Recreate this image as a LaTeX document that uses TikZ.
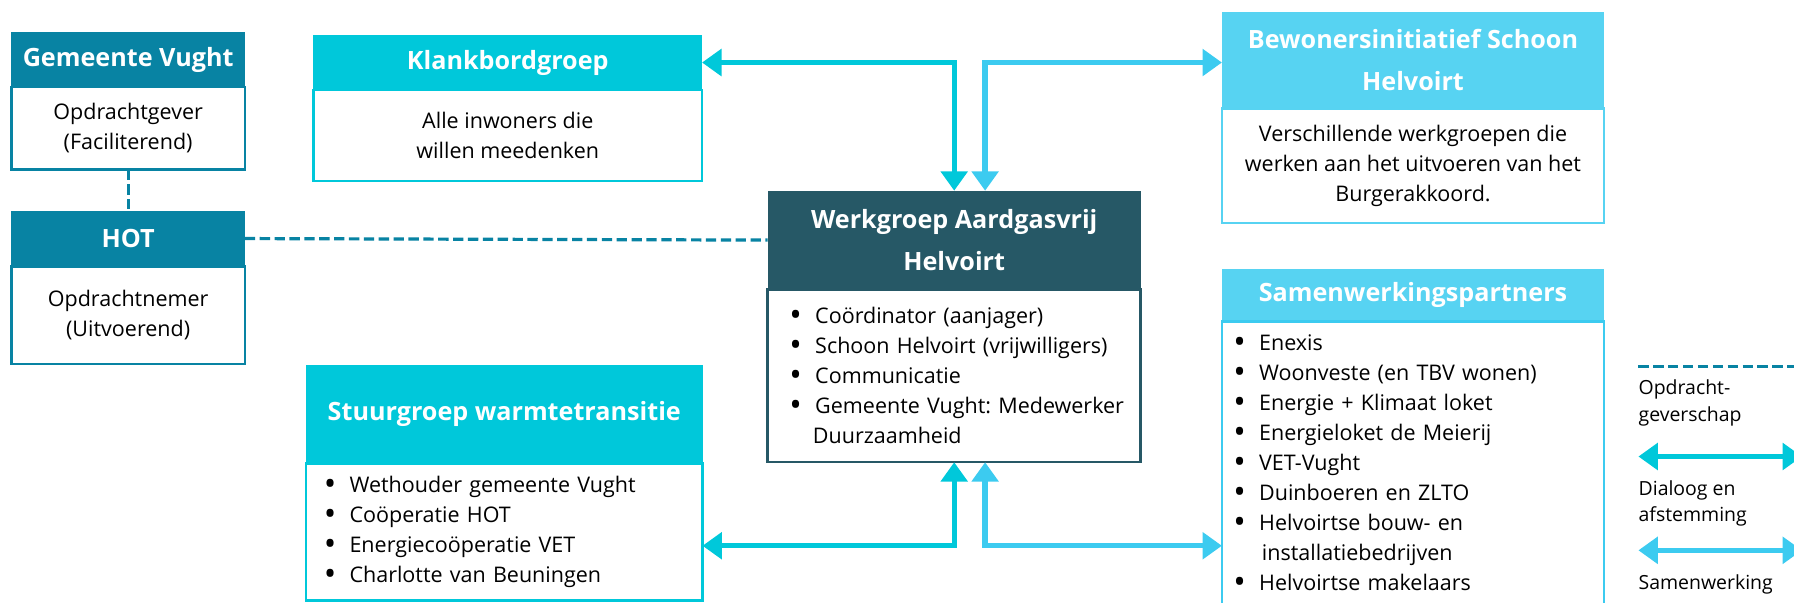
\documentclass[tikz,border=0pt]{standalone}
\usepackage{fontspec}
\setmainfont{Open Sans}
\usetikzlibrary{arrows.meta,positioning}
\definecolor{gvteal}{HTML}{0883A3}
\definecolor{cyanbox}{HTML}{00C8DA}
\definecolor{lichtblauw}{HTML}{57D3F2}
\definecolor{werkdonker}{HTML}{265866}
\definecolor{cyanpijl}{HTML}{00C8DA}
\definecolor{lichtpijl}{HTML}{3CCBF0}
\frenchspacing
\newcommand{\kopfont}{\fontsize{22}{37}\selectfont\bfseries}
\newcommand{\tekstfont}{\fontsize{18.8}{26.2}\selectfont}
\newcommand{\legfont}{\fontsize{17}{23.5}\selectfont}
\newcommand{\lpunt}[1]{\mbox{\makebox[22.5pt][l]{\raisebox{-2.2pt}{\scalebox{1.55}{\textbullet}}}#1}}
\tikzset{
  kop/.style     = {text=white, font=\kopfont, align=center, inner sep=0pt, outer sep=0pt},
  romp/.style    = {draw=#1, line width=2.2pt, fill=white, font=\tekstfont, align=center, inner sep=0pt, outer sep=0pt},
  lijst/.style   = {romp=#1, align=left},
  dialoog/.style = {{Triangle[length=17pt,width=23pt]}-{Triangle[length=17pt,width=23pt]}, line width=4.7pt, draw=cyanpijl},
  samenw/.style  = {dialoog, draw=lichtpijl},
  opdr/.style    = {line width=2.8pt, draw=gvteal, dash pattern=on 9pt off 4pt},
  legenda/.style = {anchor=west, align=left, font=\legfont, inner sep=0pt},
}
\begin{document}
\begin{tikzpicture}[x=1pt,y=-1pt]
  \useasboundingbox (0,0) rectangle (1568,527);

  % opdrachtgever en opdrachtnemer
  \node[kop, fill=gvteal, minimum width=204pt, minimum height=48pt] (gvkop) at (112,52) {Gemeente Vught};
  \node[romp=gvteal, minimum width=204pt, minimum height=72pt, below=0pt of gvkop] (gvromp) {Opdrachtgever\\(Faciliterend)};
  \node[kop, fill=gvteal, minimum width=204pt, minimum height=48.5pt] (hotkop) at (112,208.5) {HOT};
  \node[romp=gvteal, minimum width=204pt, minimum height=85.5pt, below=0pt of hotkop] (hotromp) {Opdrachtnemer\\(Uitvoerend)};

  % klankbordgroep en stuurgroep
  \node[kop, fill=cyanbox, minimum width=339.6pt, minimum height=48.1pt] (klankkop) at (443.8,54.65) {Klankbordgroep};
  \node[romp=cyanbox, minimum width=339.6pt, minimum height=79.3pt, below=0pt of klankkop] (klankromp) {Alle inwoners die\\willen meedenken};
  \node[kop, fill=cyanbox, minimum width=346.5pt, minimum height=86pt] (stuurkop) at (440.75,362) {Stuurgroep warmtetransitie};
  \node[lijst=cyanbox, minimum width=346.5pt, minimum height=120pt, text width=315.5pt, inner xsep=15.5pt, below=0pt of stuurkop] (stuurromp)
    {\lpunt{Wethouder gemeente Vught}\\\lpunt{Coöperatie HOT}\\\lpunt{Energiecoöperatie VET}\\\lpunt{Charlotte van Beuningen}};

  % werkgroep
  \node[kop, fill=werkdonker, minimum width=326pt, minimum height=86.3pt] (werkkop) at (834,209.85) {Werkgroep Aardgasvrij\\Helvoirt};
  \node[lijst=werkdonker, minimum width=326pt, minimum height=151pt, text width=288pt, inner xsep=19pt, below=0pt of werkkop] (werkromp)
    {\lpunt{Coördinator (aanjager)}\\\lpunt{Schoon Helvoirt (vrijwilligers)}\\\lpunt{Communicatie}\\\lpunt{Gemeente Vught: Medewerker}\\\hspace*{20.5pt}Duurzaamheid};

  % bewoners en partners
  \node[kop, fill=lichtblauw, minimum width=334pt, minimum height=84.5pt] (bewkop) at (1235,52.45) {Bewonersinitiatief Schoon\\Helvoirt};
  \node[romp=lichtblauw, minimum width=334pt, minimum height=100.3pt, below=0pt of bewkop] (bewromp) {Verschillende werkgroepen die\\werken aan het uitvoeren van het\\Burgerakkoord.};
  \node[kop, fill=lichtblauw, minimum width=334pt, minimum height=46pt] (samenkop) at (1235,258) {Samenwerkingspartners};
  \node[lijst=lichtpijl, minimum width=334pt, minimum height=249pt, text width=314pt, inner xsep=10pt, below=0pt of samenkop] (samenromp)
    {\lpunt{Enexis}\\\lpunt{Woonveste (en TBV wonen)}\\\lpunt{Energie + Klimaat loket}\\\lpunt{Energieloket de Meierij}\\\lpunt{VET-Vught}\\\lpunt{Duinboeren en ZLTO}\\\lpunt{Helvoirtse bouw- en}\\\hspace*{25pt}installatiebedrijven\\\lpunt{Helvoirtse makelaars}};

  % verbindingen
  \coordinate (laag) at (0,477);
  \draw[opdr] (gvromp.south) -- (hotkop.north);
  \draw[opdr] (hotkop.east) -- (werkkop.west);
  \draw[dialoog] (klankkop.east) -| (werkkop.north);
  \draw[samenw] ([xshift=27pt]werkkop.north) |- (bewkop.west |- klankkop.east);
  \draw[dialoog] (werkromp.south) |- (stuurromp.east |- laag);
  \draw[samenw] ([xshift=27pt]werkromp.south) |- (samenromp.west |- laag);

  % legenda
  \coordinate (lg1a) at (1432,320);
  \coordinate (lg1b) at (1600,320);
  \coordinate (lg2a) at (1432,399);
  \coordinate (lg2b) at (1575,399);
  \coordinate (lg3a) at (1432,481);
  \coordinate (lg3b) at (1575,481);
  \draw[opdr] (lg1a) -- (lg1b);
  \node[legenda] (lgopdr) at (1432,352.5) {Opdracht-\\geverschap};
  \draw[dialoog] (lg2a) -- (lg2b);
  \node[legenda] (lgdialoog) at (1432,440) {Dialoog en\\afstemming};
  \draw[samenw] (lg3a) -- (lg3b);
  \node[legenda] (lgsamen) at (1432,511) {Samenwerking};
\end{tikzpicture}
\end{document}
